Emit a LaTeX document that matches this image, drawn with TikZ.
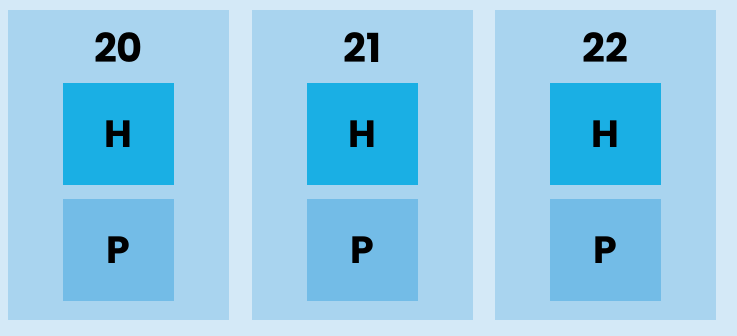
\documentclass[tikz,border=0pt]{standalone}
\usepackage{fontspec}
\setmainfont{Poppins}
\definecolor{pagebg}{HTML}{D4E9F7}
\definecolor{panelbg}{HTML}{A9D4EF}
\definecolor{hbox}{HTML}{1AAFE4}
\definecolor{pbox}{HTML}{73BCE7}
\begin{document}
\begin{tikzpicture}[x=1pt,y=-1pt,
  panel/.style={fill=panelbg,inner sep=0pt,minimum width=221pt,minimum height=310pt},
  cell/.style={inner sep=0pt,minimum width=111pt,minimum height=102pt,font=\fontsize{38}{40}\selectfont\bfseries},
  num/.style={inner sep=0pt,font=\fontsize{40}{42}\selectfont\bfseries}]
  \fill[pagebg] (0,0) rectangle (737,336);
  \useasboundingbox (0,0) rectangle (737,336);
  % panels
  \node[panel] (pa) at (118.5,165) {};
  \node[panel] (pb) at (362.5,165) {};
  \node[panel] (pc) at (605.5,165) {};
  % numbers
  \node[num] (na) at (118.5,48) {20};
  \node[num] (nb) at (362.5,48) {21};
  \node[num] (nc) at (605.5,48) {22};
  % H and P cells
  \node[cell,fill=hbox] (ha) at (118.5,134) {H};
  \node[cell,fill=pbox] (qa) at (118.5,250) {P};
  \node[cell,fill=hbox] (hb) at (362.5,134) {H};
  \node[cell,fill=pbox] (qb) at (362.5,250) {P};
  \node[cell,fill=hbox] (hc) at (605.5,134) {H};
  \node[cell,fill=pbox] (qc) at (605.5,250) {P};
\end{tikzpicture}
\end{document}
